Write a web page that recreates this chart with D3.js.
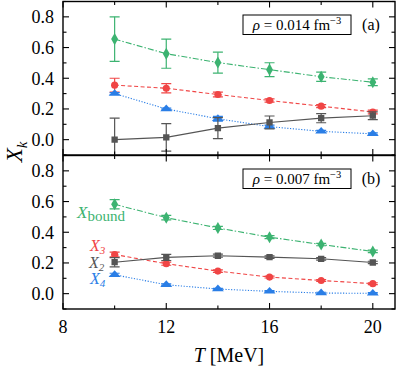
<!DOCTYPE html>
<html>
<head>
<meta charset="utf-8">
<script src="https://cdn.jsdelivr.net/npm/d3@7"></script>
<style>
  body { margin: 0; background: #fff; }
  svg text { font-family: "Liberation Serif", "DejaVu Serif", serif; fill: #000; }
</style>
</head>
<body>
<svg id="chart" width="399" height="370"></svg>
<script>
// temperatures (MeV)
var T = [10, 12, 14, 16, 18, 20];
var xTicks = [8, 12, 16, 20];
var yTicks = [0.0, 0.2, 0.4, 0.6, 0.8];

// panel (a) rho = 0.014 fm^-3
var boundA = [0.655, 0.56, 0.502, 0.456, 0.41, 0.374];
var boundAErr = [0.145, 0.095, 0.068, 0.045, 0.03, 0.022];
var x3A = [0.355, 0.335, 0.294, 0.255, 0.218, 0.18];
var x3AErr = [0.045, 0.03, 0.015, 0.01, 0.01, 0.012];
var x4A = [0.30, 0.20, 0.136, 0.085, 0.054, 0.038];
var x4AErr = [0.006, 0.006, 0.015, 0.01, 0.006, 0.006];
var x2A = [0.0, 0.015, 0.075, 0.112, 0.14, 0.156];
var x2AErr = [0.14, 0.09, 0.068, 0.042, 0.03, 0.025];

// panel (b) rho = 0.007 fm^-3
var boundB = [0.582, 0.495, 0.428, 0.368, 0.32, 0.275];
var boundBErr = [0.03, 0.015, 0.01, 0.01, 0.008, 0.008];
var x3B = [0.255, 0.195, 0.147, 0.108, 0.086, 0.065];
var x3BErr = [0.015, 0.01, 0.008, 0.006, 0.006, 0.006];
var x2B = [0.205, 0.236, 0.247, 0.238, 0.227, 0.203];
var x2BErr = [0.03, 0.02, 0.01, 0.008, 0.008, 0.008];
var x4B = [0.123, 0.058, 0.03, 0.015, 0.004, 0.002];
var x4BErr = [0.01, 0.006, 0.005, 0.005, 0.005, 0.005];

var svg = d3.select("#chart");
var left = 63, right = 395;

var x = d3.scaleLinear().domain([8, 20.86]).range([left, right]);

var styles = {
  bound: { color: "#3cb371", dash: "6,2,1.5,2", marker: d3.symbolDiamond },
  x3:    { color: "#f04545", dash: "4,2.5",     marker: d3.symbolCircle },
  x4:    { color: "#2a7ee6", dash: "1.2,1.6",   marker: d3.symbolTriangle },
  x2:    { color: "#555555", dash: null,        marker: d3.symbolSquare }
};

var Panel = function (top, bottom, series, rhoText, tag, showX) {
  var y = d3.scaleLinear().domain([-0.1, 0.9]).range([bottom, top]);
  var g = svg.append("g");
  var clipId = "clip" + tag;
  svg.append("clipPath").attr("id", clipId)
    .append("rect").attr("x", left).attr("y", top)
    .attr("width", right - left).attr("height", bottom - top);

  var plot = g.append("g").attr("clip-path", "url(#" + clipId + ")");

  series.forEach(function (s) {
    var st = styles[s.key];
    var pts = T.map(function (t, i) { return { t: t, v: s.values[i], e: s.err[i] }; });

    plot.append("path").datum(pts)
      .attr("fill", "none")
      .attr("stroke", st.color)
      .attr("stroke-width", 1.1)
      .attr("stroke-dasharray", st.dash)
      .attr("d", d3.line().x(function (d) { return x(d.t); }).y(function (d) { return y(d.v); }));

    var eb = plot.append("g").attr("stroke", st.color).attr("stroke-width", 1.2);
    eb.selectAll(".v").data(pts).enter().append("line")
      .attr("x1", function (d) { return x(d.t); })
      .attr("x2", function (d) { return x(d.t); })
      .attr("y1", function (d) { return y(d.v - d.e); })
      .attr("y2", function (d) { return y(d.v + d.e); });
    [-1, 1].forEach(function (sg) {
      eb.selectAll(".c" + sg).data(pts).enter().append("line")
        .attr("x1", function (d) { return x(d.t) - 5; })
        .attr("x2", function (d) { return x(d.t) + 5; })
        .attr("y1", function (d) { return y(d.v + sg * d.e); })
        .attr("y2", function (d) { return y(d.v + sg * d.e); });
    });

    plot.selectAll(".m" + s.key).data(pts).enter().append("path")
      .attr("transform", function (d) {
        var sx = s.key === "x4" ? "scale(1.25,0.8)" : "";
        return "translate(" + x(d.t) + "," + y(d.v) + ")" + sx;
      })
      .attr("d", d3.symbol().type(st.marker).size(s.key === "bound" ? 42 : 40))
      .attr("fill", st.color);
  });

  // frame
  g.append("rect").attr("x", left).attr("y", top)
    .attr("width", right - left).attr("height", bottom - top)
    .attr("fill", "none").attr("stroke", "#000").attr("stroke-width", 1.4);

  // ticks inward on all sides
  var yMinor = d3.range(-0.1, 0.91, 0.1).map(function (v) { return Math.round(v * 10) / 10; });
  var xMinor = d3.range(8, 21, 2);
  var tk = g.append("g").attr("stroke", "#000").attr("stroke-width", 1.1);
  yMinor.forEach(function (v) {
    var major = yTicks.indexOf(v) >= 0;
    var len = major ? 6 : 3.5;
    tk.append("line").attr("x1", left).attr("x2", left + len).attr("y1", y(v)).attr("y2", y(v));
    tk.append("line").attr("x1", right).attr("x2", right - len).attr("y1", y(v)).attr("y2", y(v));
  });
  xMinor.forEach(function (t) {
    var major = xTicks.indexOf(t) >= 0;
    var len = major ? 6 : 3.5;
    tk.append("line").attr("x1", x(t)).attr("x2", x(t)).attr("y1", top).attr("y2", top + len);
    tk.append("line").attr("x1", x(t)).attr("x2", x(t)).attr("y1", bottom).attr("y2", bottom - len);
  });

  g.selectAll(".yl").data(yTicks).enter().append("text")
    .attr("x", 54).attr("y", function (d) { return y(d); })
    .attr("dy", "0.35em")
    .attr("text-anchor", "end")
    .style("font-size", "18px")
    .text(function (d) { return d.toFixed(1); });

  if (showX) {
    g.selectAll(".xl").data(xTicks).enter().append("text")
      .attr("x", function (d) { return x(d); }).attr("y", bottom + 24)
      .attr("text-anchor", "middle")
      .style("font-size", "18px")
      .text(function (d) { return d; });
  }

  // density box
  var box = g.append("g");
  box.append("rect").attr("x", 243).attr("y", top + 13.5)
    .attr("width", 108).attr("height", 19.5)
    .attr("fill", "#fff").attr("stroke", "#000").attr("stroke-width", 1);
  var rt = box.append("text").attr("x", 297).attr("y", top + 28.5)
    .attr("text-anchor", "middle").style("font-size", "15px");
  rt.append("tspan").style("font-style", "italic").text("ρ");
  rt.append("tspan").text(" = " + rhoText + " fm");
  rt.append("tspan").attr("dy", -6).style("font-size", "10.5px").text("−3");
  g.append("text").attr("x", 371).attr("y", top + 28.5)
    .attr("text-anchor", "middle").style("font-size", "16px").text("(" + tag + ")");

  return y;
};

Panel(1.5, 155, [
  { key: "bound", values: boundA, err: boundAErr },
  { key: "x3", values: x3A, err: x3AErr },
  { key: "x4", values: x4A, err: x4AErr },
  { key: "x2", values: x2A, err: x2AErr }
], "0.014", "a", false);

Panel(155.5, 309, [
  { key: "bound", values: boundB, err: boundBErr },
  { key: "x3", values: x3B, err: x3BErr },
  { key: "x2", values: x2B, err: x2BErr },
  { key: "x4", values: x4B, err: x4BErr }
], "0.007", "b", true);

// series labels in panel (b)
var labels = [
  { key: "bound", sub: "bound", x: 77, y: 218, subSize: 15, size: 17 },
  { key: "x3", sub: "3", x: 90, y: 251, subSize: 11, size: 16 },
  { key: "x2", sub: "2", x: 89, y: 268, subSize: 11, size: 16 },
  { key: "x4", sub: "4", x: 90, y: 284, subSize: 11, size: 16 }
];
labels.forEach(function (l) {
  var t = svg.append("text").attr("x", l.x).attr("y", l.y)
    .style("font-size", l.size + "px").style("fill", styles[l.key].color);
  t.append("tspan").style("font-style", "italic").text("X");
  t.append("tspan").attr("dy", 3).style("font-size", l.subSize + "px")
    .style("font-style", l.key === "bound" ? "normal" : "italic").text(l.sub);
});

// axis titles
var yt = svg.append("text")
  .attr("transform", "translate(22,152) rotate(-90)")
  .attr("text-anchor", "middle")
  .style("font-size", "23px");
yt.append("tspan").style("font-style", "italic").text("X");
yt.append("tspan").attr("dy", 5).style("font-size", "15px").style("font-style", "italic").text("k");

var xt = svg.append("text").attr("x", 229).attr("y", 362)
  .attr("text-anchor", "middle").style("font-size", "20px");
xt.append("tspan").style("font-style", "italic").text("T");
xt.append("tspan").text(" [MeV]");
</script>
</body>
</html>
